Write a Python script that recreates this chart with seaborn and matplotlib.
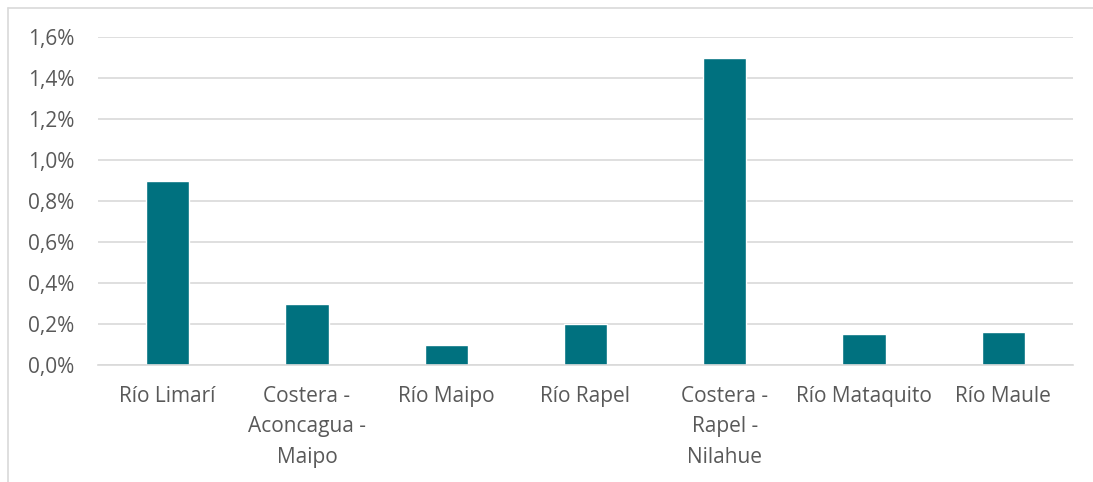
import matplotlib
matplotlib.use("Agg")
import matplotlib.pyplot as plt
import seaborn as sns
import pandas as pd
from matplotlib.lines import Line2D
from matplotlib.ticker import FuncFormatter

categories = ["Río Limarí", "Costera -\nAconcagua -\nMaipo", "Río Maipo", "Río Rapel",
              "Costera -\nRapel -\nNilahue", "Río Mataquito", "Río Maule"]
values = [0.009, 0.003, 0.001, 0.002, 0.015, 0.0015, 0.0016]
yticks = [0.0, 0.002, 0.004, 0.006, 0.008, 0.010, 0.012, 0.014, 0.016]

sns.set_theme(style="white")
plt.rcParams['font.family'] = ['Open Sans', 'DejaVu Sans']

W, H = 1093, 482
fig = plt.figure(figsize=(W / 100, H / 100), dpi=100)
ax = fig.add_axes([98 / W, 1 - 365 / H, (1073 - 98) / W, (365 - 37) / H])

df = pd.DataFrame({"cat": categories, "val": values})
sns.barplot(data=df, x="cat", y="val", color="#00717F", saturation=1, width=0.31, ax=ax)

ax.set_ylim(0, 0.016)
ax.set_yticks(yticks)
ax.yaxis.set_major_formatter(FuncFormatter(lambda v, p: f"{v*100:.1f}%".replace(".", ",")))
ax.grid(axis="y", color="#D9D9D9", linewidth=1.2)
ax.set_axisbelow(True)
for s in ["top", "right", "left"]:
    ax.spines[s].set_visible(False)
ax.spines["bottom"].set_color("#D9D9D9")
ax.spines["bottom"].set_linewidth(1.2)
ax.set_xlabel("")
ax.set_ylabel("")
ax.tick_params(axis="both", length=0, labelsize=15, labelcolor="#595959")
ax.tick_params(axis="y", pad=17)
ax.tick_params(axis="x", pad=15)
for lbl in ax.get_xticklabels():
    lbl.set_linespacing(1.6)
    lbl.set_verticalalignment("top")

# outer chart border (left and top)
fig.add_artist(Line2D([8 / W, 8 / W], [0, 1 - 8 / H], transform=fig.transFigure, color="#D9D9D9", lw=1.2))
fig.add_artist(Line2D([8 / W, 1], [1 - 8 / H, 1 - 8 / H], transform=fig.transFigure, color="#D9D9D9", lw=1.2))

fig.savefig("out.png", dpi=100)
